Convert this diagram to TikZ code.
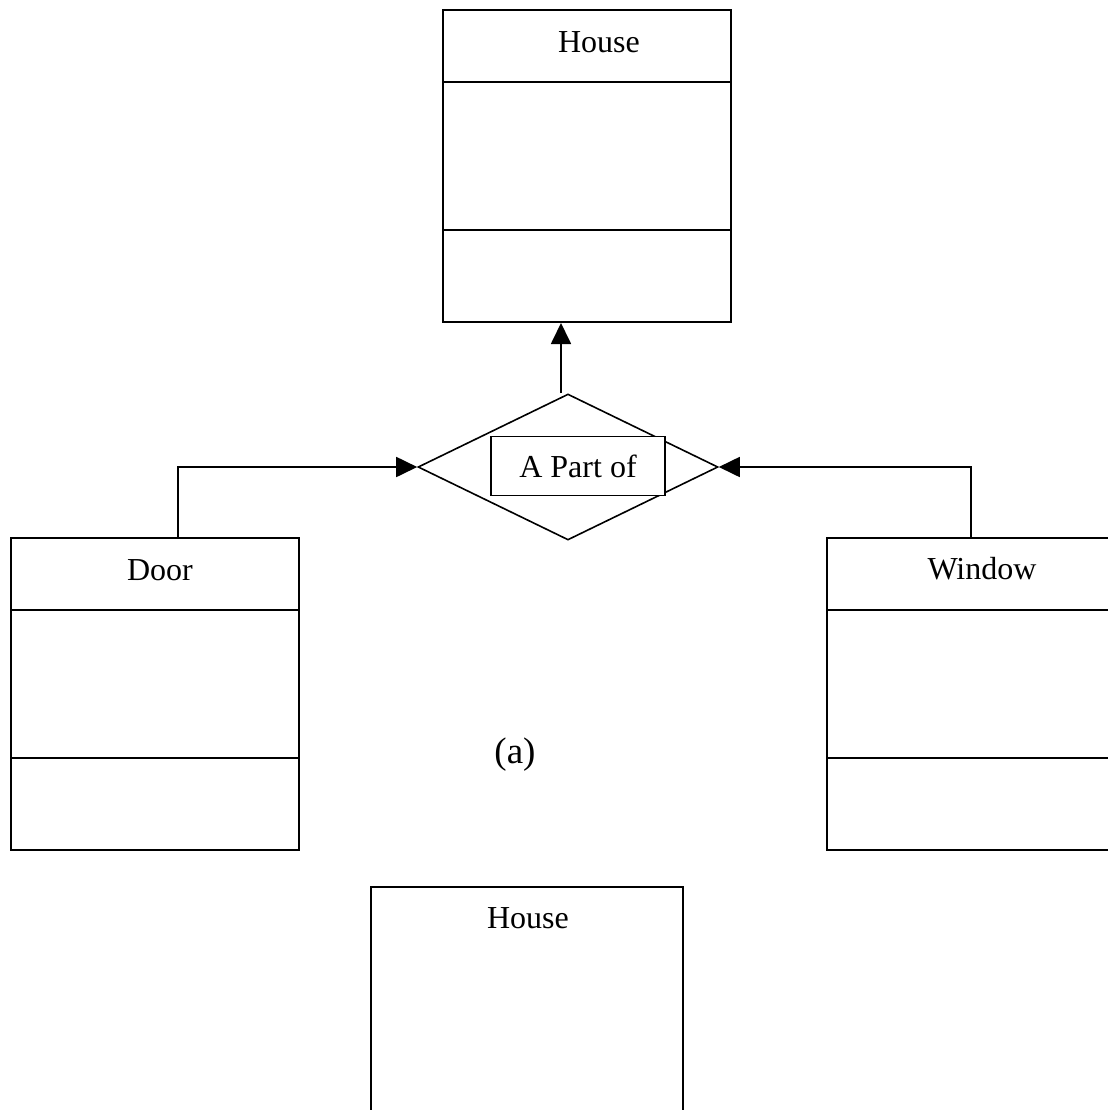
\documentclass[tikz,border=0pt]{standalone}
\usepackage{fontspec}
\setmainfont{Liberation Serif}
\usepackage{tikz}
\usetikzlibrary{shapes,shapes.geometric}
\usetikzlibrary{arrows.meta}
\usetikzlibrary{calc}
\tikzstyle{classbox}=[draw, rectangle, line width=1pt, inner sep=0pt, minimum width=144pt, minimum height=156pt]
\tikzstyle{title}=[inner sep=0pt, font=\fontsize{16}{19}\selectfont]
\tikzstyle{conn}=[line width=0.9pt, -{Triangle[length=10.5pt,width=10pt]}]

\begin{document}
\begin{tikzpicture}[x=0.5pt, y=-0.5pt]
\clip (0,0) rectangle (1108,1110);
\fill[white] (0,0) rectangle (1108,1110);
% class boxes
\node[classbox] (house) at (587,166) {};
\node[classbox] (door) at (155,694) {};
\node[classbox] (window) at (971,694) {};
\node[classbox, minimum width=156pt] (whole) at (527,1043) {};
\foreach \c in {house,door,window} {
	\draw[line width=1pt] ($(\c.north west)+(0,73)$) -- ($(\c.north east)+(0,73)$);
	\draw[line width=1pt] ($(\c.north west)+(0,221)$) -- ($(\c.north east)+(0,221)$);
}
\node[title] (house-t) at (599,42) {House};
\node[title] (door-t) at (160,570) {Door};
\node[title] (window-t) at (982,569) {Window};
\node[title] (whole-t) at (528,918) {House};
% aggregation
\node[diamond, draw, line width=0.8pt, inner sep=0pt, minimum width=150pt, minimum height=73pt] (part) at (568,467) {};
\node[title, draw, fill=white, line width=0.8pt, minimum width=87pt, minimum height=29.5pt] (part-t) at (578,466) {A Part of};
\draw[conn] ([xshift=-3.5pt]part.north) -- ([xshift=-3.5pt]part.north |- house.south);
\draw[conn] ([xshift=11.5pt]door.north) |- (part.west);
\draw[conn] (window.north) |- (part.east);
\node[title, font=\fontsize{18.5}{22}\selectfont] (cap) at (515,755) {(a)};
\end{tikzpicture}
\end{document}
